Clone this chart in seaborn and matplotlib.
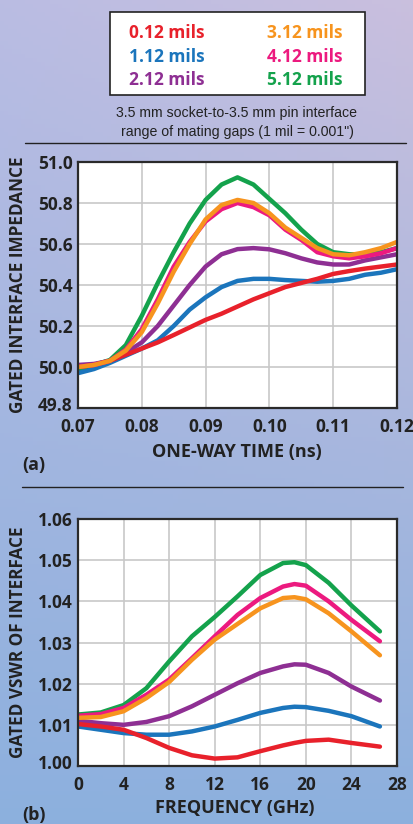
import numpy as np
import pandas as pd
import matplotlib
matplotlib.use("Agg")
import matplotlib.pyplot as plt
import matplotlib.transforms as mtransforms
import seaborn as sns

# --- data ---
gaps = ["0.12 mils", "1.12 mils", "2.12 mils", "3.12 mils", "4.12 mils", "5.12 mils"]
colores = ["#e8212b", "#1b75bc", "#8e2f93", "#f7941e", "#ec1a7f", "#14a24c"]

t_ns = [0.070, 0.0725, 0.075, 0.0775, 0.080, 0.0825, 0.085, 0.0875, 0.090, 0.0925,
        0.095, 0.0975, 0.100, 0.1025, 0.105, 0.1075, 0.110, 0.1125, 0.115, 0.1175, 0.120]
imp_012 = [50.00, 50.01, 50.03, 50.06, 50.09, 50.12, 50.156, 50.193, 50.23, 50.26, 50.295,
           50.33, 50.36, 50.39, 50.41, 50.43, 50.454, 50.468, 50.48, 50.49, 50.50]
imp_112 = [49.97, 49.99, 50.02, 50.055, 50.09, 50.13, 50.20, 50.28, 50.34, 50.39, 50.42,
           50.43, 50.43, 50.424, 50.42, 50.416, 50.42, 50.43, 50.45, 50.46, 50.477]
imp_212 = [50.01, 50.015, 50.03, 50.07, 50.12, 50.20, 50.30, 50.40, 50.49, 50.55, 50.575,
           50.58, 50.574, 50.555, 50.53, 50.51, 50.50, 50.50, 50.52, 50.535, 50.55]
imp_312 = [50.00, 50.01, 50.03, 50.08, 50.17, 50.31, 50.465, 50.60, 50.72, 50.79, 50.815,
           50.80, 50.75, 50.68, 50.63, 50.58, 50.55, 50.545, 50.56, 50.58, 50.61]
imp_412 = [50.00, 50.01, 50.03, 50.085, 50.185, 50.33, 50.49, 50.61, 50.71, 50.77, 50.80,
           50.78, 50.74, 50.67, 50.62, 50.56, 50.54, 50.53, 50.54, 50.555, 50.58]
imp_512 = [49.985, 50.01, 50.034, 50.107, 50.25, 50.41, 50.56, 50.70, 50.815, 50.89, 50.925,
           50.89, 50.82, 50.75, 50.67, 50.60, 50.56, 50.55, 50.55, 50.56, 50.58]

f_ghz = [0, 2, 4, 6, 8, 10, 12, 14, 16, 18, 19, 20, 22, 24, 26.5]
vswr_012 = [1.0102, 1.0096, 1.0088, 1.0068, 1.0044, 1.0026, 1.0018, 1.0021, 1.0036, 1.0050,
            1.0056, 1.0061, 1.0064, 1.0056, 1.0047]
vswr_112 = [1.0096, 1.0088, 1.0080, 1.0076, 1.0076, 1.0084, 1.0096, 1.0112, 1.0129, 1.0141,
            1.0144, 1.0143, 1.0134, 1.0121, 1.0096]
vswr_212 = [1.0110, 1.0104, 1.0100, 1.0107, 1.0121, 1.0145, 1.0173, 1.0201, 1.0226, 1.0242,
            1.0247, 1.0246, 1.0226, 1.0193, 1.0159]
vswr_312 = [1.0117, 1.0119, 1.0133, 1.0165, 1.0204, 1.0258, 1.0307, 1.0345, 1.0383, 1.0408,
            1.0410, 1.0405, 1.0371, 1.0327, 1.0269]
vswr_412 = [1.0122, 1.0126, 1.0141, 1.0173, 1.0210, 1.0262, 1.0315, 1.0367, 1.0408, 1.0436,
            1.0442, 1.0438, 1.0400, 1.0355, 1.0303]
vswr_512 = [1.0125, 1.0130, 1.0148, 1.0189, 1.0254, 1.0315, 1.0362, 1.0412, 1.0464, 1.0493,
            1.0495, 1.0488, 1.0445, 1.0390, 1.0327]

imp = [imp_012, imp_112, imp_212, imp_312, imp_412, imp_512]
vswr = [vswr_012, vswr_112, vswr_212, vswr_312, vswr_412, vswr_512]

# draw order: green at the back, orange on top
orden = ["5.12 mils", "2.12 mils", "1.12 mils", "0.12 mils", "4.12 mils", "3.12 mils"]

df_a = pd.concat([pd.DataFrame({"t": t_ns, "z": v, "gap": g}) for g, v in zip(gaps, imp)])
df_b = pd.concat([pd.DataFrame({"f": f_ghz, "s": v, "gap": g}) for g, v in zip(gaps, vswr)])
paleta = dict(zip(gaps, colores))

sns.set_style("white")
plt.rcParams["font.family"] = ["Open Sans", "DejaVu Sans"]

W, H = 413, 824
fig = plt.figure(figsize=(W / 100, H / 100), dpi=100)

# background gradient
bg = fig.add_axes([0, 0, 1, 1])
yy, xx = np.mgrid[0:1:200j, 0:1:100j]
top = np.array([0.73, 0.74, 0.89])
bot = np.array([0.55, 0.69, 0.87])
right_tint = np.array([0.06, 0.01, -0.02])
img = top * (1 - yy[..., None]) + bot * yy[..., None] + right_tint * (xx[..., None] * (1 - yy[..., None]))
bg.imshow(np.clip(img, 0, 1), aspect="auto", extent=[0, 1, 0, 1], origin="upper")
bg.axis("off")


def px(x0, y0, x1, y1):
    return [x0 / W, 1 - y1 / H, (x1 - x0) / W, (y1 - y0) / H]


def fx(x):
    return x / W


def fy(y):
    return 1 - y / H


# legend box
fig.patches.append(plt.Rectangle((fx(110), fy(95)), 255 / W, 83 / H, transform=fig.transFigure,
                                 facecolor="white", edgecolor="#222222", linewidth=1.2))
for i, (g, c) in enumerate(zip(gaps, colores)):
    col, row = divmod(i, 3)
    fig.text(fx(129 + col * 138), fy(33 + row * 23.5), g, color=c, fontsize=12.5,
             fontweight="bold", va="center", ha="left")

fig.text(fx(237), fy(113), "3.5 mm socket-to-3.5 mm pin interface", fontsize=10.2,
         family="Liberation Sans", ha="center", va="center", color="#222222")
fig.text(fx(237), fy(132), "range of mating gaps (1 mil = 0.001\")", fontsize=10.2,
         family="Liberation Sans", ha="center", va="center", color="#222222")

fig.add_artist(plt.Line2D([fx(25), fx(406)], [fy(143), fy(143)], color="#222222", lw=1.0))
fig.add_artist(plt.Line2D([fx(22), fx(403)], [fy(487), fy(487)], color="#222222", lw=1.0))

txt = dict(fontweight="bold", color="#222222", ha="center", va="center")

# (a)
ax1 = fig.add_axes(px(78, 162, 397, 408))
sns.lineplot(data=df_a, x="t", y="z", hue="gap", palette=paleta, hue_order=orden,
             estimator=None, sort=False, lw=3.2, legend=False, ax=ax1)
ax1.set_xlim(0.07, 0.12)
ax1.set_ylim(49.8, 51.0)
ax1.set_xticks([0.07, 0.08, 0.09, 0.10, 0.11, 0.12])
ax1.set_xticklabels(["0.07", "0.08", "0.09", "0.10", "0.11", "0.12"])
ax1.set_yticks(np.arange(49.8, 51.01, 0.2))
ax1.set_yticklabels(["49.8", "50.0", "50.2", "50.4", "50.6", "50.8", "51.0"])

# (b)
ax2 = fig.add_axes(px(78, 519, 397, 766))
sns.lineplot(data=df_b, x="f", y="s", hue="gap", palette=paleta, hue_order=orden,
             estimator=None, sort=False, lw=3.2, legend=False, ax=ax2)
ax2.set_xlim(0, 28)
ax2.set_ylim(1.0, 1.06)
ax2.set_xticks(range(0, 29, 4))
ax2.set_yticks(np.arange(1.0, 1.0601, 0.01))
ax2.set_yticklabels(["1.00", "1.01", "1.02", "1.03", "1.04", "1.05", "1.06"])

for ax in (ax1, ax2):
    ax.set_xlabel("")
    ax.set_ylabel("")
    ax.set_facecolor("white")
    ax.grid(True, color="#c8c8c8", lw=1.2)
    ax.set_axisbelow(True)
    for s in ax.spines.values():
        s.set_color("#2a2a2a")
        s.set_linewidth(1.6)
    for ln in ax.get_lines():
        ln.set_solid_joinstyle("round")
        ln.set_solid_capstyle("round")
    ax.tick_params(axis="y", length=0, pad=4, labelsize=12.5, labelcolor="#222222")
    ax.tick_params(axis="x", length=0, pad=7, labelsize=12.5, labelcolor="#222222")
    for t in ax.get_xticklabels() + ax.get_yticklabels():
        t.set_fontweight("bold")
    # bottom y label sits a little above its grid line, as in the reference
    lab = ax.get_yticklabels()[0]
    lab.set_transform(lab.get_transform() + mtransforms.ScaledTranslation(0, 4 / 100, fig.dpi_scale_trans))

fig.text(fx(18), fy(285), "GATED INTERFACE IMPEDANCE", rotation=90, fontsize=12.3, **txt)
fig.text(fx(18), fy(642), "GATED VSWR OF INTERFACE", rotation=90, fontsize=12.3, **txt)
fig.text(fx(237), fy(452), "ONE-WAY TIME (ns)", fontsize=13, **txt)
fig.text(fx(235), fy(808), "FREQUENCY (GHz)", fontsize=13, **txt)
fig.text(fx(34), fy(465), "(a)", fontsize=13, **txt)
fig.text(fx(34), fy(815), "(b)", fontsize=13, **txt)

fig.savefig("out.png", dpi=100)
